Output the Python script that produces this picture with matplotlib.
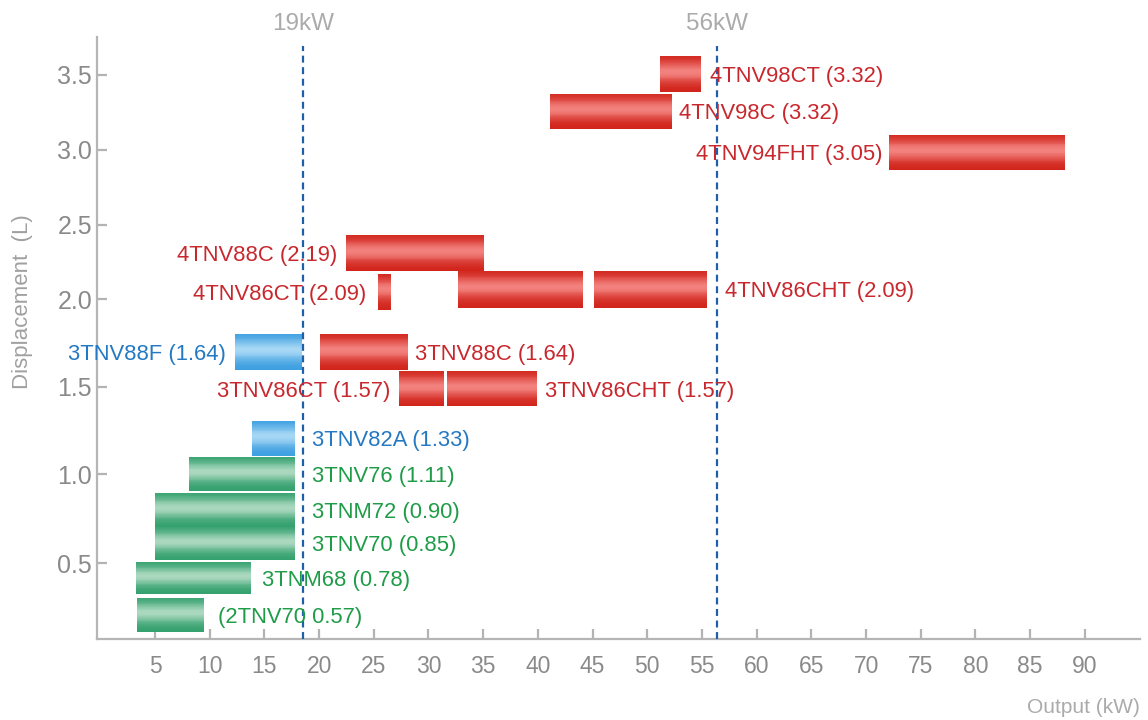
import numpy as np
import matplotlib
matplotlib.use("Agg")
import matplotlib.pyplot as plt
from matplotlib.colors import LinearSegmentedColormap

plt.rcParams['font.family'] = ['Liberation Sans', 'DejaVu Sans']
plt.rcParams['lines.scale_dashes'] = False

# engine rows, top to bottom
labels = ["4TNV98CT (3.32)", "4TNV98C (3.32)", "4TNV94FHT (3.05)", "4TNV88C (2.19)",
          "4TNV86CT (2.09)", "4TNV86CHT (2.09)", "3TNV88F (1.64)", "3TNV88C (1.64)",
          "3TNV86CT (1.57)", "3TNV86CHT (1.57)", "3TNV82A (1.33)", "3TNV76 (1.11)",
          "3TNM72 (0.90)", "3TNV70 (0.85)", "3TNM68 (0.78)", "(2TNV70 0.57)"]
groups = ["red", "red", "red", "red", "red", "red", "blue", "red",
          "red", "red", "blue", "green", "green", "green", "green", "green"]
# output ranges (kW); 4TNV86CHT is drawn in two pieces
kw_ranges = [[(51.2, 54.9)], [(41.1, 52.3)], [(72.1, 88.2)], [(22.5, 35.1)],
             [(25.4, 26.6)], [(32.7, 44.1), (45.1, 55.5)], [(12.3, 18.4)], [(20.1, 28.1)],
             [(27.3, 31.4)], [(31.7, 39.9)], [(13.9, 17.8)], [(8.1, 17.8)],
             [(5.0, 17.8)], [(5.0, 17.8)], [(3.3, 13.8)], [(3.4, 9.5)]]
# vertical extent of each row on the displacement axis (L)
band_lo = [3.387, 3.143, 2.864, 2.190, 1.939, 1.951, 1.596, 1.596,
           1.388, 1.388, 1.106, 0.908, 0.704, 0.518, 0.328, 0.116]
band_hi = [3.627, 3.376, 3.102, 2.430, 2.170, 2.188, 1.801, 1.801,
           1.588, 1.588, 1.304, 1.099, 0.895, 0.704, 0.507, 0.307]

ref_lines = [18.5, 56.4]
ref_names = ["19kW", "56kW"]
xticks = list(range(5, 95, 5))
yticks = [0.5, 1.0, 1.5, 2.0, 2.5, 3.0, 3.5]

# label placement: side of the bar and gap in pixels
label_side = ["r", "r", "l", "l", "l", "r", "l", "r", "l", "r", "r", "r", "r", "r", "r", "r"]
label_gap = [9, 7, 7, 9, 12, 18, 9, 7, 9, 8, 17, 17, 17, 17, 11, 14]

# the original y axis is not evenly spaced (lower half is stretched)
scale_vals = np.array([0.0, 0.5, 1.0, 1.5, 2.0, 2.5, 3.0, 3.5, 4.0])
scale_pos = -np.array([652.3, 563.3, 474.3, 386.7, 299.3, 225.0, 150.0, 75.0, 0.0])


def fwd(v):
    return np.interp(v, scale_vals, scale_pos)


def inv(p):
    return np.interp(p, scale_pos, scale_vals)


bar_colors = {
    "red": ("#d0231a", "#f2817d"),
    "green": ("#33a06d", "#aad8bf"),
    "blue": ("#3d9fe0", "#a6d7f5"),
}
text_colors = {"red": "#c8282d", "green": "#1f9c48", "blue": "#2479c2"}

fig = plt.figure(figsize=(11.48, 7.2), dpi=100)
ax = fig.add_axes([97 / 1148, (720 - 639.3) / 720, (1140 - 97) / 1148, (639.3 - 36.7) / 720])
ax.set_yscale('function', functions=(fwd, inv))

n = 40
t = (np.arange(n) + 0.5) / n
profile = np.exp(-((t - 0.56) / 0.28) ** 2)
fs = 15.8
px = 0.72  # points per pixel at dpi 100

for lab, grp, segs, lo, hi, side, gap in zip(labels, groups, kw_ranges, band_lo, band_hi,
                                             label_side, label_gap):
    cmap = LinearSegmentedColormap.from_list(grp, bar_colors[grp])
    yedges = np.linspace(lo, hi, n + 1)
    for a, b in segs:
        ax.pcolormesh([a, b], yedges, profile[:, None], cmap=cmap, vmin=0, vmax=1,
                      shading='flat', edgecolors='none', antialiased=False, zorder=2)
    yc = inv((fwd(lo) + fwd(hi)) / 2)
    if side == "r":
        x, dx, ha = segs[-1][1], gap * px, "left"
    else:
        x, dx, ha = segs[0][0], -gap * px, "right"
    ax.annotate(lab, xy=(x, yc), xytext=(dx, -fs * 0.716 / 2), textcoords='offset points',
                ha=ha, va='baseline', fontsize=fs, color=text_colors[grp], zorder=4)

for xv, name in zip(ref_lines, ref_names):
    ax.axvline(xv, ymax=0.985, color='#1d5fa8', lw=1.6, dashes=(5, 3.3), zorder=3)
    ax.annotate(name, xy=(xv, 1), xycoords=('data', 'axes fraction'), xytext=(0, 4.5),
                textcoords='offset points', ha='center', va='baseline', fontsize=17.5,
                color='#ababab', annotation_clip=False)

ax.set_xlim(-0.3, 95.04)
ax.set_ylim(0.073, 3.755)
ax.set_xticks(xticks)
ax.set_yticks(yticks)
ax.set_yticklabels([f"{v:.1f}" for v in yticks])
ax.yaxis.set_minor_locator(matplotlib.ticker.NullLocator())

for s in ['top', 'right']:
    ax.spines[s].set_visible(False)
for s in ['left', 'bottom']:
    ax.spines[s].set_color('#b5b5b5')
    ax.spines[s].set_linewidth(1.6)

ax.tick_params(axis='both', direction='in', length=7.2, width=1.6, color='#b3b3b3',
               labelcolor='#8a8a8a')
ax.tick_params(axis='x', labelsize=16.5, pad=11.5)
ax.tick_params(axis='y', labelsize=18, pad=3.5)

fig.text(22.7 / 1148, (720 - 302) / 720, "Displacement  (L)", rotation=90, ha='center',
         va='center', fontsize=16, color='#a0a0a0')
fig.text(1140 / 1148, 7 / 720, "Output (kW)", ha='right', va='baseline', fontsize=15,
         color='#ababab')

fig.savefig("out.png", dpi=100)
